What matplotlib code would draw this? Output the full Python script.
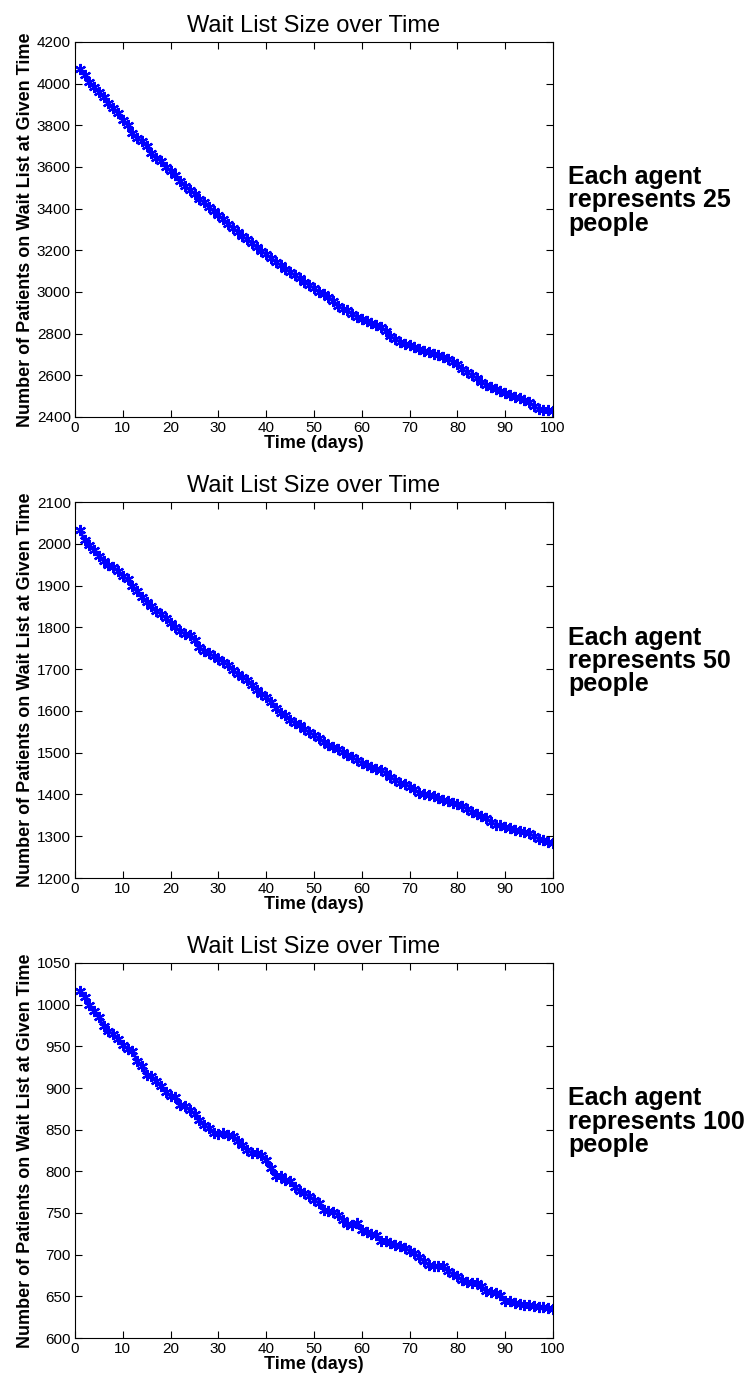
import matplotlib
matplotlib.use("Agg")
import matplotlib.pyplot as plt
import numpy as np

plt.rcParams['font.family'] = ['Liberation Sans', 'DejaVu Sans']

days = list(range(1, 101))

wait_25 = [4070, 4042, 4006, 3986, 3958, 3938, 3906, 3882, 3861, 3826,
           3802, 3762, 3740, 3725, 3701, 3669, 3645, 3630, 3602, 3580,
           3562, 3534, 3510, 3490, 3472, 3448, 3430, 3408, 3388, 3368,
           3350, 3328, 3308, 3290, 3268, 3252, 3234, 3214, 3196, 3182,
           3164, 3146, 3128, 3112, 3096, 3080, 3066, 3050, 3034, 3018,
           3002, 2990, 2978, 2958, 2934, 2920, 2912, 2896, 2880, 2872,
           2862, 2852, 2840, 2830, 2815, 2790, 2772, 2762, 2752, 2744,
           2736, 2728, 2718, 2712, 2702, 2696, 2688, 2680, 2666, 2652,
           2632, 2614, 2602, 2586, 2570, 2554, 2544, 2536, 2526, 2516,
           2506, 2498, 2490, 2480, 2472, 2452, 2438, 2434, 2432, 2428]

wait_50 = [2033, 2009, 1996, 1985, 1971, 1959, 1950, 1945, 1935, 1922,
           1915, 1900, 1888, 1872, 1860, 1851, 1840, 1832, 1823, 1811,
           1800, 1792, 1784, 1782, 1770, 1754, 1743, 1738, 1731, 1725,
           1718, 1710, 1698, 1688, 1682, 1674, 1663, 1650, 1641, 1634,
           1622, 1607, 1596, 1590, 1578, 1572, 1566, 1556, 1549, 1542,
           1534, 1525, 1518, 1514, 1508, 1502, 1494, 1489, 1482, 1476,
           1470, 1466, 1462, 1458, 1452, 1442, 1434, 1428, 1425, 1419,
           1412, 1404, 1400, 1399, 1397, 1392, 1387, 1384, 1380, 1377,
           1372, 1366, 1358, 1353, 1349, 1344, 1334, 1328, 1326, 1322,
           1320, 1316, 1313, 1311, 1307, 1300, 1294, 1290, 1287, 1284]

wait_100 = [1016, 1009, 1000, 992, 985, 974, 968, 965, 959, 952,
            947, 944, 933, 926, 916, 914, 909, 902, 895, 890,
            889, 880, 878, 874, 869, 862, 856, 852, 846, 845,
            846, 844, 842, 836, 832, 826, 822, 822, 820, 814,
            804, 794, 794, 790, 788, 781, 776, 774, 770, 766,
            762, 754, 752, 751, 748, 742, 737, 736, 738, 730,
            727, 725, 724, 717, 716, 714, 712, 710, 708, 705,
            702, 697, 692, 688, 687, 686, 686, 680, 677, 674,
            670, 667, 666, 666, 663, 657, 655, 654, 652, 645,
            644, 642, 641, 640, 640, 639, 637, 637, 636, 635]

series = [wait_25, wait_50, wait_100]
ylims = [(2400, 4200), (1200, 2100), (600, 1050)]
ysteps = [200, 100, 50]
agents = ["25", "50", "100"]
xticks = list(range(0, 101, 10))

title = "Wait List Size over Time"
xlabel = "Time (days)"
ylabel = "Number of Patients on Wait List at Given Time"

W, H = 756, 1387
fig = plt.figure(figsize=(W / 100, H / 100), dpi=100)

tops = [42, 502, 963]
bottoms = [417, 878, 1338]
left, right = 75, 553

for i in range(3):
    ax = fig.add_axes([left / W, 1 - bottoms[i] / H, (right - left) / W,
                       (bottoms[i] - tops[i]) / H])
    ax.plot(days, series[i], color=(0, 0, 1), lw=2.0, marker=(6, 2, 0), ms=8,
            mew=1.6, mec=(0, 0, 1), mfc=(0, 0, 1))
    ax.set_xlim(0, 100)
    ax.set_ylim(*ylims[i])
    ax.set_xticks(xticks)
    lo, hi = ylims[i]
    ax.set_yticks(np.arange(lo, hi + 1, ysteps[i]))
    ax.tick_params(direction='in', length=5, width=0.8, top=True, right=True,
                   labelsize=11, pad=3, colors='black')
    for s in ax.spines.values():
        s.set_linewidth(0.8)
    ax.set_title(title, fontsize=17, pad=7)
    ax.set_xlabel(xlabel, fontsize=13, fontweight='bold', labelpad=0)
    ax.set_ylabel(ylabel, fontsize=13, fontweight='bold', labelpad=2)
    ymid = (tops[i] + bottoms[i]) / 2
    fig.text(568 / W, 1 - (ymid - 29) / H,
             "Each agent\nrepresents " + agents[i] + "\npeople",
             fontsize=18, fontweight='bold', ha='left', va='center',
             linespacing=0.97)

fig.savefig("out.png", dpi=100)
